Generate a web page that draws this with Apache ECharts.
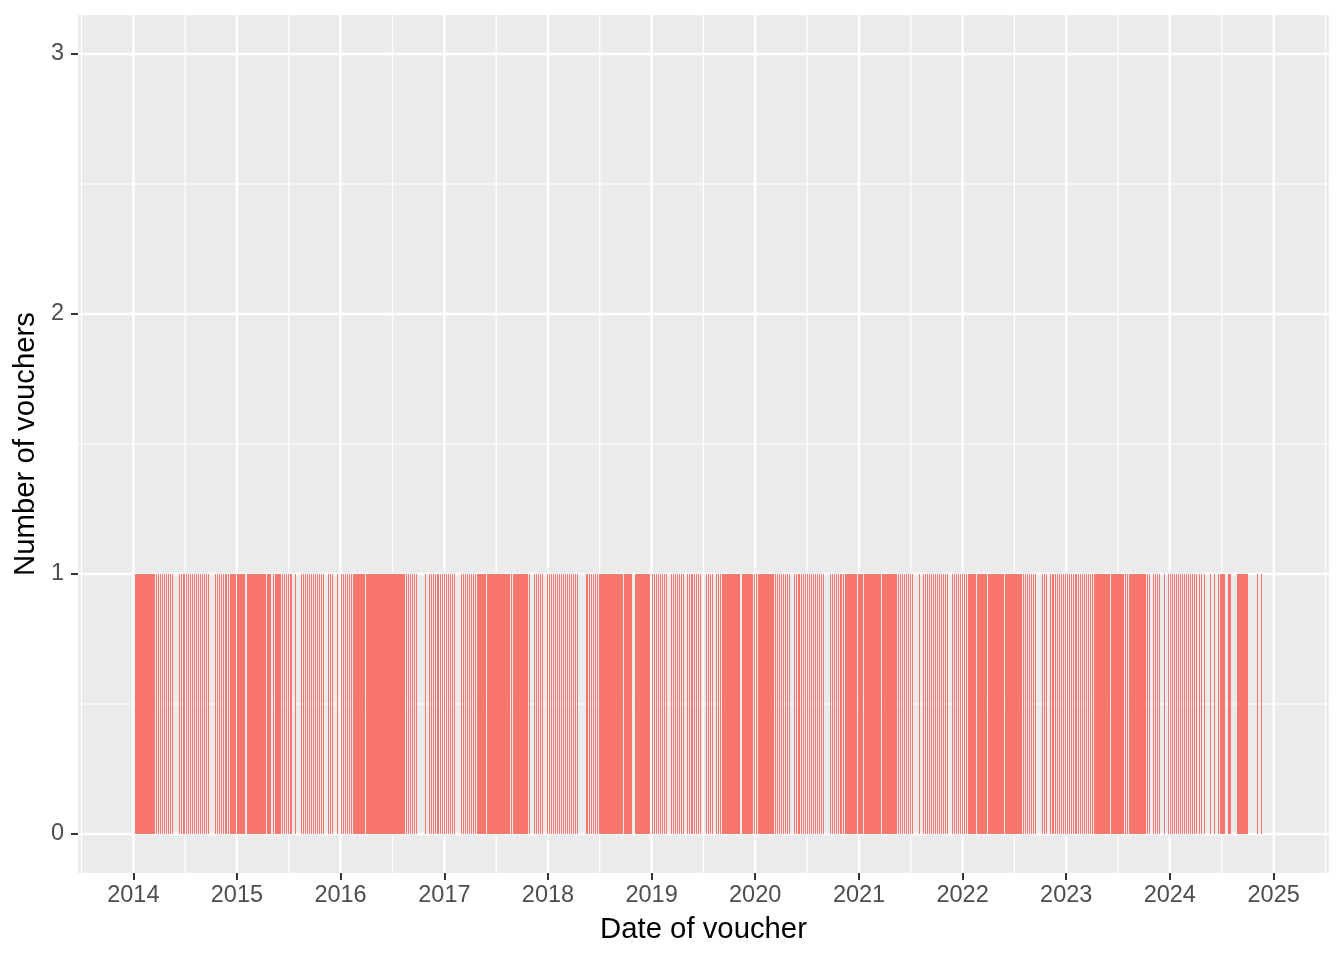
<!DOCTYPE html>
<html>
<head>
<meta charset="utf-8">
<script src="https://cdn.jsdelivr.net/npm/echarts@6/dist/echarts.min.js"></script>
<style>
html,body{margin:0;padding:0;background:#fff;}
#chart{width:1344px;height:960px;}
</style>
</head>
<body>
<div id="chart"></div>
<script>
// ---- Data (one voucher per date) ----
// Spans in which a voucher was issued every day
const dailySpans = [
  ["2014-01-07","2014-01-28"],["2014-01-31","2014-03-13"],["2014-12-11","2014-12-28"],
  ["2015-01-03","2015-01-29"],["2015-02-08","2015-03-12"],["2015-03-15","2015-04-07"],
  ["2015-04-17","2015-05-01"],["2015-05-18","2015-06-05"],
  ["2016-02-17","2016-03-27"],["2016-04-02","2016-04-16"],["2016-04-20","2016-05-05"],
  ["2016-05-08","2016-05-18"],["2016-05-21","2016-06-14"],["2016-06-23","2016-07-21"],
  ["2016-07-25","2016-08-12"],
  ["2017-05-02","2017-05-27"],["2017-06-07","2017-06-20"],["2017-06-24","2017-07-20"],
  ["2017-07-22","2017-08-20"],["2017-08-31","2017-10-18"],
  ["2018-07-03","2018-08-29"],["2018-09-01","2018-09-19"],["2018-09-26","2018-10-24"],
  ["2018-11-07","2018-12-23"],
  ["2019-09-10","2019-11-06"],["2019-11-16","2019-12-24"],
  ["2020-01-14","2020-03-04"],["2020-11-16","2020-12-22"],
  ["2021-01-01","2021-01-15"],["2021-01-22","2021-03-15"],["2021-03-23","2021-05-12"],
  ["2022-01-23","2022-02-17"],["2022-02-21","2022-03-21"],["2022-04-01","2022-05-20"],
  ["2022-05-31","2022-07-26"],
  ["2023-04-09","2023-04-27"],["2023-04-30","2023-05-29"],["2023-06-08","2023-07-17"],
  ["2023-08-14","2023-10-03"],
  ["2024-06-26","2024-07-13"],["2024-07-27","2024-08-03"],["2024-08-28","2024-10-02"]
];
// Spans in which a voucher was issued once a week
const weeklySpans = [
  ["2014-03-18","2014-05-24"],["2014-06-11","2014-09-28"],["2014-10-16","2014-12-11"],
  ["2015-06-09","2015-07-16"],["2015-08-18","2015-11-04"],["2015-11-18","2015-12-04"],
  ["2016-01-06","2016-02-17"],["2016-08-15","2016-09-30"],["2016-11-08","2017-02-11"],
  ["2017-03-01","2017-04-30"],["2017-10-22","2017-10-29"],["2017-11-13","2017-12-15"],
  ["2018-01-01","2018-04-20"],["2018-05-15","2018-07-03"],
  ["2019-01-05","2019-02-28"],["2019-03-11","2019-04-26"],["2019-05-06","2019-06-27"],
  ["2019-07-15","2019-08-09"],["2019-08-19","2019-09-10"],
  ["2020-03-07","2020-05-06"],["2020-05-17","2020-09-03"],["2020-09-21","2020-11-16"],
  ["2021-05-14","2021-07-14"],["2021-08-15","2021-11-11"],["2021-11-28","2022-01-23"],
  ["2022-07-29","2022-09-20"],["2022-10-08","2022-10-25"],["2022-11-05","2023-02-05"],
  ["2023-02-08","2023-04-09"],["2023-07-21","2023-08-11"],["2023-10-06","2023-10-20"],
  ["2023-11-03","2023-11-24"],["2023-12-29","2024-04-06"],["2024-04-13","2024-04-20"]
];
// Isolated single voucher dates
const singleDates = [
  "2015-04-12","2015-05-10","2015-07-28","2015-12-23","2016-06-19","2016-10-25",
  "2017-06-02","2017-08-24","2019-12-28","2020-01-04","2020-12-29","2021-03-18",
  "2021-08-02","2022-03-25","2022-05-25","2023-06-01","2023-12-15","2024-05-04",
  "2024-05-25","2024-06-08","2024-06-19","2024-11-06","2024-11-20"
];
const vouchersPerDate = 1;

// Axis ticks
const xTickYears = [2014,2015,2016,2017,2018,2019,2020,2021,2022,2023,2024,2025];
const xMinorYears = [2013,2014,2015,2016,2017,2018,2019,2020,2021,2022,2023,2024,2025];
const yTicks = [0,1,2,3];
const yMinor = [0.5,1.5,2.5];

// ---- Build ----
const DAY = 86400000;
const parse = s => { const p = s.split('-').map(Number); return Date.UTC(p[0], p[1]-1, p[2]); };
const barData = [];
dailySpans.forEach(([a,b]) => { for (let t = parse(a); t <= parse(b); t += DAY) barData.push([t, vouchersPerDate]); });
weeklySpans.forEach(([a,b]) => { for (let t = parse(a); t <= parse(b); t += 7*DAY) barData.push([t, vouchersPerDate]); });
singleDates.forEach(s => barData.push([parse(s), vouchersPerDate]));

const yearTs = y => Date.UTC(y,0,1);
const midYearTs = y => (Date.UTC(y,0,1) + Date.UTC(y+1,0,1)) / 2;
const xMin = Date.UTC(2013,5,20);
const xMax = Date.UTC(2025,6,15);

const vGrid = xTickYears.map(y => [yearTs(y), 2.4]).concat(xMinorYears.map(y => [midYearTs(y), 1.2]));
const hGrid = yTicks.map(v => [xMin, v, 2.4]).concat(yMinor.map(v => [xMin, v, 1.2]));

const FONT = "'Liberation Sans', Arial, Helvetica, sans-serif";
const chart = echarts.init(document.getElementById('chart'), null, {renderer:'canvas'});
chart.setOption({
  animation: false,
  backgroundColor: '#ffffff',
  textStyle: { fontFamily: FONT },
  grid: { left: 78, right: 15, top: 15, bottom: 87, show: true, backgroundColor: '#EBEBEB', borderWidth: 0, containLabel: false },
  xAxis: {
    type: 'value', min: xMin, max: xMax, scale: true, z: 5,
    splitLine: { show: false }, minorSplitLine: { show: false },
    axisLine: { show: false, onZero: false },
    axisTick: { show: true, customValues: xTickYears.map(yearTs), length: 7, lineStyle: { color: '#333333', width: 2 } },
    axisLabel: { show: true, customValues: xTickYears.map(yearTs), formatter: v => String(new Date(v).getUTCFullYear()),
      color: '#4D4D4D', fontSize: 23.5, margin: 11, fontFamily: FONT, hideOverlap: false,
      showMinLabel: true, showMaxLabel: true },
    name: 'Date of voucher', nameLocation: 'middle', nameGap: 42,
    nameTextStyle: { color: '#000000', fontSize: 29.3, fontFamily: FONT }
  },
  yAxis: {
    type: 'value', min: -0.15, max: 3.15, z: 5,
    splitLine: { show: false },
    axisLine: { show: false, onZero: false },
    axisTick: { show: true, customValues: yTicks, length: 7, lineStyle: { color: '#333333', width: 2 } },
    axisLabel: { show: true, customValues: yTicks, formatter: v => String(v), color: '#4D4D4D', fontSize: 23.5, margin: 14, fontFamily: FONT },
    name: 'Number of vouchers', nameLocation: 'middle', nameGap: 32, nameRotate: 90,
    nameTextStyle: { color: '#000000', fontSize: 29.3, fontFamily: FONT }
  },
  series: [
    {
      type: 'custom', z: 1, silent: true, clip: true, data: vGrid,
      encode: { x: 0 },
      renderItem: (params, api) => {
        const cs = params.coordSys;
        const x = api.coord([api.value(0), 0])[0];
        return { type: 'line', shape: { x1: x, y1: cs.y, x2: x, y2: cs.y + cs.height },
          style: { stroke: '#FFFFFF', lineWidth: api.value(1) } };
      }
    },
    {
      type: 'custom', z: 1, silent: true, clip: true, data: hGrid,
      encode: { x: 0, y: 1 },
      renderItem: (params, api) => {
        const cs = params.coordSys;
        const y = api.coord([api.value(0), api.value(1)])[1];
        return { type: 'line', shape: { x1: cs.x, y1: y, x2: cs.x + cs.width, y2: y },
          style: { stroke: '#FFFFFF', lineWidth: api.value(2) } };
      }
    },
    {
      type: 'custom', z: 2, silent: true, clip: true, progressive: 0, data: barData,
      encode: { x: 0, y: 1 },
      renderItem: (params, api) => {
        const top = api.coord([api.value(0), api.value(1)]);
        const base = api.coord([api.value(0), 0]);
        return { type: 'rect', shape: { x: Math.floor(top[0]), y: top[1], width: 1, height: base[1] - top[1] },
          style: { fill: '#F8766D' } };
      }
    }
  ]
});
</script>
</body>
</html>
